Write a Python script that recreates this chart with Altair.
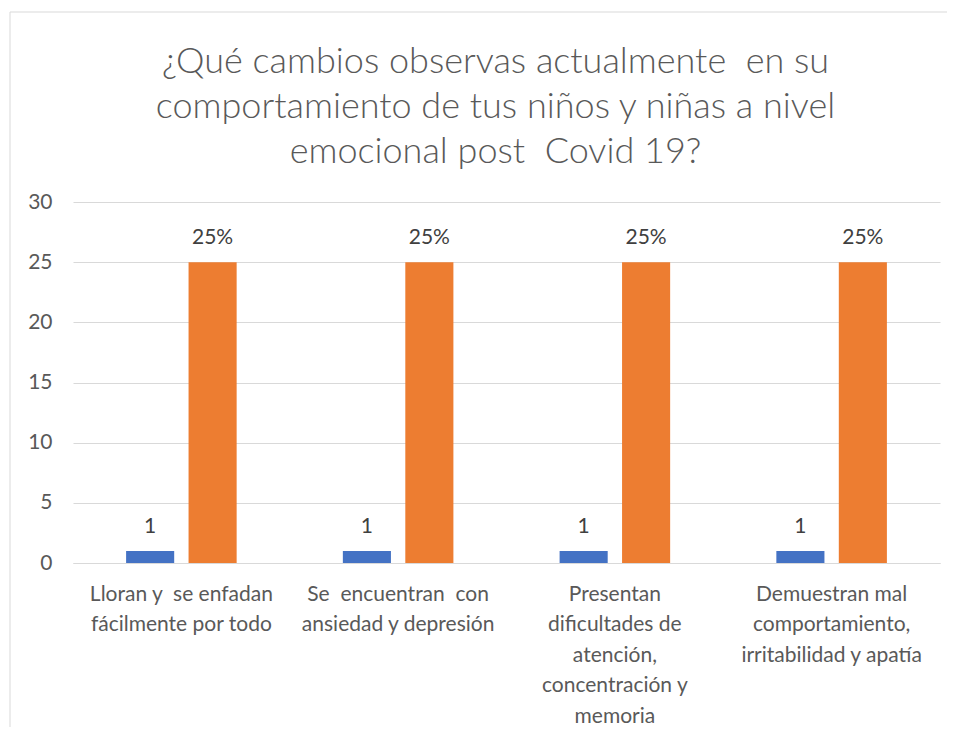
import altair as alt
import pandas as pd

categorias = [
    "Lloran y \u00a0se enfadan|fácilmente por todo",
    "Se \u00a0encuentran \u00a0con|ansiedad y depresión",
    "Presentan|dificultades de|atención,|concentración y|memoria",
    "Demuestran mal|comportamiento,|irritabilidad y apatía",
]
series = ["Serie1", "Serie2"]
valores_serie1 = [1, 1, 1, 1]
valores_serie2 = [25, 25, 25, 25]
etiquetas_serie1 = ["1", "1", "1", "1"]
etiquetas_serie2 = ["25%", "25%", "25%", "25%"]
colores = ["#4472c4", "#ed7d31"]
ticks_y = [0, 5, 10, 15, 20, 25, 30]
titulo = [
    "¿Qué cambios observas actualmente \u00a0en su",
    "comportamiento de tus niños y niñas a nivel",
    "emocional post \u00a0Covid 19?",
]

rows = []
for i, c in enumerate(categorias):
    rows.append({"cat": c, "serie": series[0], "valor": valores_serie1[i], "etiqueta": etiquetas_serie1[i]})
    rows.append({"cat": c, "serie": series[1], "valor": valores_serie2[i], "etiqueta": etiquetas_serie2[i]})
df = pd.DataFrame(rows)

FONT = "Lato"
GRAY = "#595959"
FS = 21

base = alt.Chart(df).encode(
    x=alt.X(
        "cat:N",
        sort=categorias,
        scale=alt.Scale(paddingInner=0.49, paddingOuter=0.245),
        axis=alt.Axis(
            title=None,
            labelAngle=0,
            labelExpr="split(datum.label, '|')",
            labelFontSize=FS,
            labelFont=FONT,
            labelColor=GRAY,
            labelLineHeight=30.5,
            labelPadding=20,
            labelBaseline="top",
            ticks=False,
            domainColor="#d9d9d9",
            domainWidth=1,
            labelLimit=300,
        ),
    ),
    xOffset=alt.XOffset("serie:N", sort=series, scale=alt.Scale(paddingInner=0.23)),
    y=alt.Y(
        "valor:Q",
        scale=alt.Scale(domain=[0, 30]),
        axis=alt.Axis(
            values=ticks_y,
            title=None,
            ticks=False,
            domain=False,
            gridColor="#d9d9d9",
            labelPadding=21,
            labelFontSize=FS,
            labelFont=FONT,
            labelColor=GRAY,
        ),
    ),
)

bars = base.mark_bar().encode(
    color=alt.Color("serie:N", scale=alt.Scale(domain=series, range=colores), legend=None)
)
text = base.mark_text(baseline="alphabetic", dy=-18, fontSize=FS, font=FONT, color="#404040").encode(
    text="etiqueta:N"
)

frame = alt.Chart(pd.DataFrame({"a": [0]})).mark_rect(
    filled=False, stroke="#d9d9d9", strokeWidth=1
).encode(
    x=alt.value(-63), x2=alt.value(895), y=alt.value(-190), y2=alt.value(545)
)

chart = alt.layer(frame, bars, text).properties(
    width=867,
    height=361,
    autosize=alt.AutoSizeParams(type="none"),
    padding={"left": 65, "top": 194, "right": 7, "bottom": 164},
    title=alt.TitleParams(
        text=titulo,
        fontSize=36,
        font=FONT,
        fontWeight=300,
        color=GRAY,
        lineHeight=45,
        anchor="middle",
        frame="group",
        dx=-11,
        offset=-159,
    ),
).configure_view(stroke=None)

chart.save("out.html", embed_options={"renderer": "svg", "actions": False})
